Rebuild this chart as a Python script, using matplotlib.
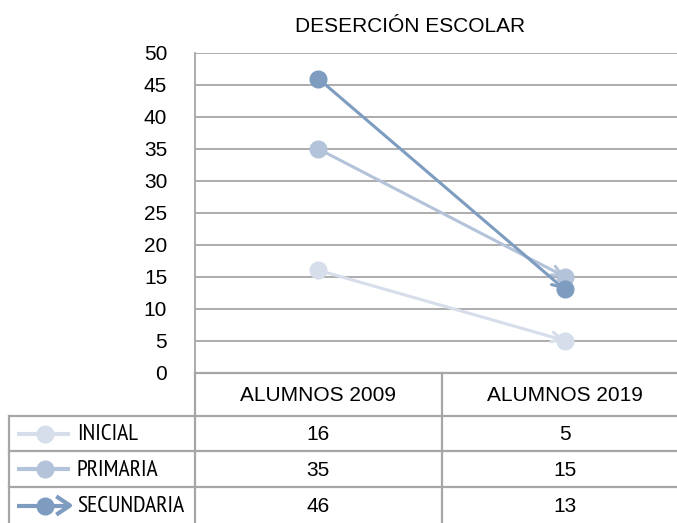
import matplotlib.pyplot as plt
import matplotlib.transforms as mtransforms

plt.rcParams['font.family'] = ['Liberation Sans', 'DejaVu Sans']
NARROW = ['PT Sans Narrow', 'Roboto Condensed', 'Liberation Sans']

# data
categorias = ['ALUMNOS 2009', 'ALUMNOS 2019']
niveles = ['INICIAL', 'PRIMARIA', 'SECUNDARIA']
inicial = [16, 5]
primaria = [35, 15]
secundaria = [46, 13]
colores = ['#D5DEEA', '#B3C3D9', '#7D9CC0']
yticks = list(range(0, 51, 5))

FS = 15
W, H = 677, 523
fig = plt.figure(figsize=(W / 100, H / 100), dpi=100)

# layout in pixels
x0, x1 = 195, 688
y_top, y_bot = 53, 372.5
ax = fig.add_axes([x0 / W, 1 - y_bot / H, (x1 - x0) / W, (y_bot - y_top) / H])
ax.set_xlim(-0.5, 1.5)
ax.set_ylim(0, 50)
ax.set_yticks(yticks)
ax.set_xticks([])
ax.tick_params(axis='y', length=0, pad=20, labelsize=FS)
for s in ['top', 'right', 'bottom']:
    ax.spines[s].set_visible(False)
ax.spines['left'].set_color('#A6A6A6')
ax.spines['left'].set_linewidth(1.3)
ax.yaxis.grid(True, color='#A6A6A6', linewidth=1.3)
ax.set_axisbelow(True)
ax.patch.set_visible(False)

series = [inicial, primaria, secundaria]
xs = list(range(len(categorias)))
for vals, c in zip(series, colores):
    ax.annotate('', xy=(xs[1], vals[1]), xytext=(xs[0], vals[0]),
                arrowprops=dict(arrowstyle='->,head_length=0.7,head_width=0.35',
                                color=c, lw=2.2, shrinkA=0, shrinkB=0),
                zorder=3)
for vals, c in zip(series, colores):
    ax.plot(xs, vals, linestyle='none', marker='o', markersize=12,
            color=c, zorder=4, clip_on=False)

# title
fig.text(410 / W, 1 - 27 / H, 'DESERCIÓN ESCOLAR', ha='center', va='center',
         fontsize=15)

# overlay in pixel coords for the data table
ov = fig.add_axes([0, 0, 1, 1])
ov.set_xlim(0, W)
ov.set_ylim(H, 0)
ov.axis('off')
ov.patch.set_visible(False)
bt = mtransforms.blended_transform_factory(ax.transData, ov.transData)

gc = '#A6A6A6'
glw = 1.6
rows = [372.5, 416, 451, 487, 524]
xl, xm = 9, 441.7
# horizontal lines (bottom edge falls outside the picture)
ov.plot([x0, W + 20], [rows[0], rows[0]], color=gc, lw=glw)
for r in rows[1:-1]:
    ov.plot([xl, W + 20], [r, r], color=gc, lw=glw)
# vertical lines
ov.plot([x0, x0], [rows[0], H + 5], color=gc, lw=glw)
ov.plot([xm, xm], [rows[0], H + 5], color=gc, lw=glw)
ov.plot([xl, xl], [rows[1], H + 5], color=gc, lw=glw)

# header
for i, cat in enumerate(categorias):
    ov.text(i, (rows[0] + rows[1]) / 2 + 1, cat, transform=bt, ha='center',
            va='center', fontsize=FS)

# rows
for j, (nombre, vals, c) in enumerate(zip(niveles, series, colores)):
    yc = (rows[j + 1] + rows[j + 2]) / 2
    ov.plot([17, 70], [yc, yc], color=c, lw=3, solid_capstyle='butt')
    if nombre == 'SECUNDARIA':
        ov.plot([58, 70, 58], [yc - 8, yc, yc + 8], color=c, lw=3)
    ov.plot([45], [yc], marker='o', markersize=12, color=c, linestyle='none')
    ov.text(77, yc + 1, nombre, ha='left', va='center', fontsize=17,
            family=NARROW)
    for i, v in enumerate(vals):
        ov.text(i, yc + 1, str(v), transform=bt, ha='center', va='center',
                fontsize=FS)

fig.savefig('out.png', dpi=100)
